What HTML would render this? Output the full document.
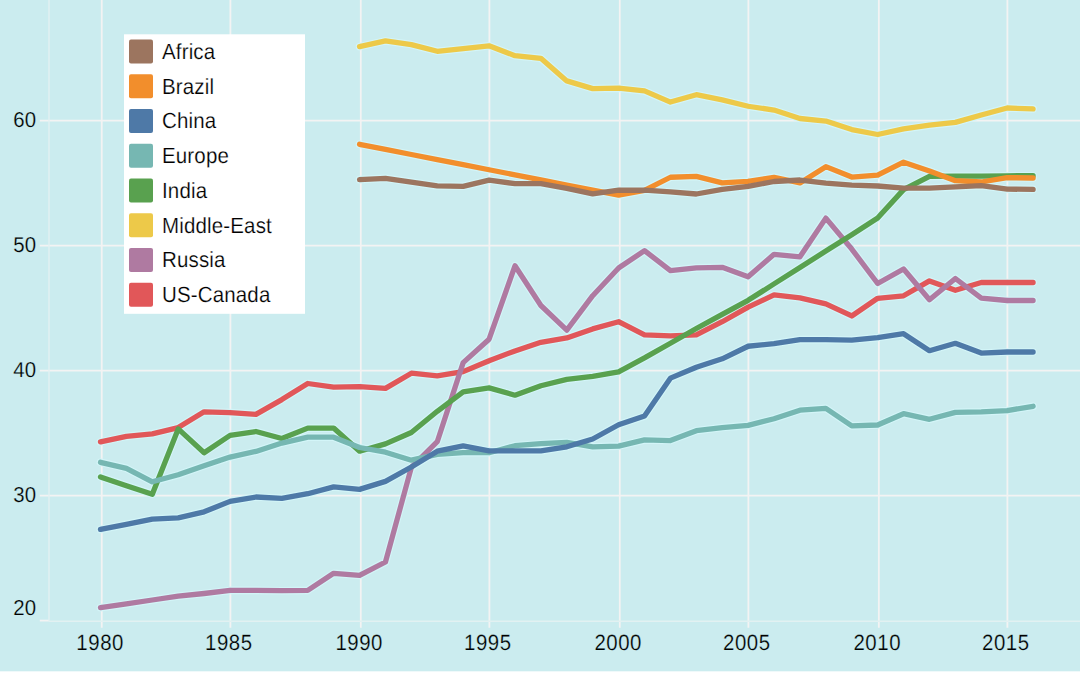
<!DOCTYPE html>
<html><head><meta charset="utf-8"><style>
html,body{margin:0;padding:0;background:#fff;width:1080px;height:675px;overflow:hidden;}
svg{display:block;}
text{font-family:"Liberation Sans",sans-serif;fill:#000;text-rendering:geometricPrecision;}
</style></head><body>
<svg width="1080" height="675" viewBox="0 0 1080 675">
<rect x="0" y="0" width="1080" height="671.3" fill="#cbecef"/>
<g stroke="#f3f3f3" stroke-width="1.8">
<line x1="101.75" y1="0" x2="101.75" y2="627.8" />
<line x1="230.40" y1="0" x2="230.40" y2="627.8" />
<line x1="360.80" y1="0" x2="360.80" y2="627.8" />
<line x1="489.40" y1="0" x2="489.40" y2="627.8" />
<line x1="619.80" y1="0" x2="619.80" y2="627.8" />
<line x1="748.40" y1="0" x2="748.40" y2="627.8" />
<line x1="878.85" y1="0" x2="878.85" y2="627.8" />
<line x1="1007.40" y1="0" x2="1007.40" y2="627.8" />
<line x1="39.8" y1="120.65" x2="1080" y2="120.65" />
<line x1="39.8" y1="245.65" x2="1080" y2="245.65" />
<line x1="39.8" y1="370.65" x2="1080" y2="370.65" />
<line x1="39.8" y1="495.65" x2="1080" y2="495.65" />
<line x1="39.8" y1="620.6" x2="49" y2="620.6" />
</g>
<g stroke="#e2f1f2" stroke-width="1.4"><line x1="49" y1="0" x2="49" y2="621.3" /><line x1="49" y1="621.3" x2="1080" y2="621.3" /></g>
<g stroke-width="7.6" stroke-linecap="round" stroke-linejoin="round" stroke="#d3f5f8">
<polyline fill="none" points="100.50,441.90 126.41,436.40 152.31,433.80 178.22,427.60 204.12,411.80 230.03,412.60 255.93,414.40 281.84,399.60 307.74,383.50 333.64,387.10 359.55,386.60 385.46,388.40 411.36,373.20 437.26,375.90 463.17,371.60 489.08,360.70 514.98,350.90 540.88,342.30 566.79,337.90 592.70,328.90 618.60,321.70 644.50,334.93 670.41,335.86 696.32,334.79 722.22,321.72 748.12,307.15 774.03,294.88 799.94,297.91 825.84,303.84 851.75,315.97 877.65,298.30 903.56,295.80 929.46,280.90 955.37,290.30 981.27,282.50 1007.18,282.50 1033.08,282.50" />
<polyline fill="none" points="100.50,607.70 126.41,603.90 152.31,600.00 178.22,596.10 204.12,593.50 230.03,590.40 255.93,590.40 281.84,590.70 307.74,590.40 333.64,573.30 359.55,575.40 385.46,562.00 411.36,467.40 437.26,441.70 463.17,362.60 489.08,339.20 514.98,265.80 540.88,305.50 566.79,330.10 592.70,295.70 618.60,268.00 644.50,250.63 670.41,270.56 696.32,267.89 722.22,267.32 748.12,276.85 774.03,254.28 799.94,256.81 825.84,218.14 851.75,249.07 877.65,283.50 903.56,269.00 929.46,299.80 955.37,278.50 981.27,298.20 1007.18,300.50 1033.08,300.50" />
<polyline fill="none" points="359.55,46.60 385.46,40.90 411.36,44.60 437.26,51.30 463.17,48.70 489.08,45.80 514.98,55.70 540.88,58.30 566.79,80.90 592.70,88.60 618.60,88.20 644.50,90.93 670.41,102.06 696.32,94.69 722.22,99.82 748.12,106.25 774.03,110.08 799.94,118.51 825.84,121.04 851.75,129.57 877.65,134.50 903.56,128.90 929.46,125.20 955.37,122.40 981.27,115.00 1007.18,108.00 1033.08,108.90" />
<polyline fill="none" points="100.50,476.90 126.41,485.70 152.31,494.20 178.22,428.90 204.12,452.70 230.03,435.40 255.93,431.50 281.84,438.50 307.74,428.10 333.64,428.10 359.55,451.20 385.46,443.90 411.36,432.50 437.26,411.30 463.17,391.80 489.08,387.90 514.98,395.20 540.88,385.80 566.79,379.40 592.70,376.30 618.60,371.80 644.50,357.93 670.41,343.26 696.32,328.49 722.22,314.42 748.12,300.35 774.03,283.88 799.94,267.51 825.84,251.04 851.75,234.67 877.65,218.00 903.56,189.60 929.46,176.40 955.37,176.10 981.27,176.10 1007.18,175.80 1033.08,175.70" />
<polyline fill="none" points="100.50,462.30 126.41,468.30 152.31,481.80 178.22,474.80 204.12,465.70 230.03,457.10 255.93,451.40 281.84,443.10 307.74,437.20 333.64,437.20 359.55,447.50 385.46,452.20 411.36,460.20 437.26,454.30 463.17,452.70 489.08,452.70 514.98,445.70 540.88,443.70 566.79,442.40 592.70,446.80 618.60,446.10 644.50,439.93 670.41,440.56 696.32,430.69 722.22,427.52 748.12,425.35 774.03,418.78 799.94,410.21 825.84,408.34 851.75,425.87 877.65,425.00 903.56,413.70 929.46,419.30 955.37,412.40 981.27,411.90 1007.18,410.60 1033.08,406.30" />
<polyline fill="none" points="100.50,529.40 126.41,524.30 152.31,519.10 178.22,517.80 204.12,511.80 230.03,501.40 255.93,497.00 281.84,498.30 307.74,493.70 333.64,486.90 359.55,489.40 385.46,481.40 411.36,467.00 437.26,451.20 463.17,445.90 489.08,450.90 514.98,450.90 540.88,450.90 566.79,446.80 592.70,439.00 618.60,424.70 644.50,416.03 670.41,378.16 696.32,367.19 722.22,358.82 748.12,346.25 774.03,343.58 799.94,339.61 825.84,339.54 851.75,340.07 877.65,337.60 903.56,333.70 929.46,350.70 955.37,343.30 981.27,353.10 1007.18,352.00 1033.08,352.00" />
<polyline fill="none" points="359.55,144.30 385.46,149.39 411.36,154.48 437.26,159.57 463.17,164.66 489.08,169.75 514.98,174.84 540.88,179.93 566.79,185.02 592.70,190.11 618.60,195.20 644.50,190.43 670.41,177.26 696.32,176.39 722.22,182.82 748.12,181.35 774.03,177.28 799.94,182.91 825.84,166.64 851.75,177.07 877.65,175.10 903.56,162.20 929.46,170.90 955.37,180.70 981.27,182.00 1007.18,177.60 1033.08,178.00" />
<polyline fill="none" points="359.55,179.60 385.46,178.30 411.36,182.10 437.26,185.90 463.17,186.30 489.08,180.20 514.98,183.70 540.88,183.70 566.79,188.40 592.70,193.90 618.60,190.20 644.50,190.23 670.41,191.96 696.32,193.99 722.22,189.32 748.12,186.35 774.03,181.48 799.94,180.01 825.84,183.14 851.75,185.07 877.65,186.00 903.56,188.10 929.46,188.10 955.37,186.90 981.27,185.70 1007.18,189.10 1033.08,189.40" />
</g>
<g stroke-width="5.3" stroke-linecap="round" stroke-linejoin="round">
<polyline fill="none" stroke="#e15759" points="100.50,441.90 126.41,436.40 152.31,433.80 178.22,427.60 204.12,411.80 230.03,412.60 255.93,414.40 281.84,399.60 307.74,383.50 333.64,387.10 359.55,386.60 385.46,388.40 411.36,373.20 437.26,375.90 463.17,371.60 489.08,360.70 514.98,350.90 540.88,342.30 566.79,337.90 592.70,328.90 618.60,321.70 644.50,334.93 670.41,335.86 696.32,334.79 722.22,321.72 748.12,307.15 774.03,294.88 799.94,297.91 825.84,303.84 851.75,315.97 877.65,298.30 903.56,295.80 929.46,280.90 955.37,290.30 981.27,282.50 1007.18,282.50 1033.08,282.50" />
<polyline fill="none" stroke="#af7aa1" points="100.50,607.70 126.41,603.90 152.31,600.00 178.22,596.10 204.12,593.50 230.03,590.40 255.93,590.40 281.84,590.70 307.74,590.40 333.64,573.30 359.55,575.40 385.46,562.00 411.36,467.40 437.26,441.70 463.17,362.60 489.08,339.20 514.98,265.80 540.88,305.50 566.79,330.10 592.70,295.70 618.60,268.00 644.50,250.63 670.41,270.56 696.32,267.89 722.22,267.32 748.12,276.85 774.03,254.28 799.94,256.81 825.84,218.14 851.75,249.07 877.65,283.50 903.56,269.00 929.46,299.80 955.37,278.50 981.27,298.20 1007.18,300.50 1033.08,300.50" />
<polyline fill="none" stroke="#edc949" points="359.55,46.60 385.46,40.90 411.36,44.60 437.26,51.30 463.17,48.70 489.08,45.80 514.98,55.70 540.88,58.30 566.79,80.90 592.70,88.60 618.60,88.20 644.50,90.93 670.41,102.06 696.32,94.69 722.22,99.82 748.12,106.25 774.03,110.08 799.94,118.51 825.84,121.04 851.75,129.57 877.65,134.50 903.56,128.90 929.46,125.20 955.37,122.40 981.27,115.00 1007.18,108.00 1033.08,108.90" />
<polyline fill="none" stroke="#59a14f" points="100.50,476.90 126.41,485.70 152.31,494.20 178.22,428.90 204.12,452.70 230.03,435.40 255.93,431.50 281.84,438.50 307.74,428.10 333.64,428.10 359.55,451.20 385.46,443.90 411.36,432.50 437.26,411.30 463.17,391.80 489.08,387.90 514.98,395.20 540.88,385.80 566.79,379.40 592.70,376.30 618.60,371.80 644.50,357.93 670.41,343.26 696.32,328.49 722.22,314.42 748.12,300.35 774.03,283.88 799.94,267.51 825.84,251.04 851.75,234.67 877.65,218.00 903.56,189.60 929.46,176.40 955.37,176.10 981.27,176.10 1007.18,175.80 1033.08,175.70" />
<polyline fill="none" stroke="#76b7b2" points="100.50,462.30 126.41,468.30 152.31,481.80 178.22,474.80 204.12,465.70 230.03,457.10 255.93,451.40 281.84,443.10 307.74,437.20 333.64,437.20 359.55,447.50 385.46,452.20 411.36,460.20 437.26,454.30 463.17,452.70 489.08,452.70 514.98,445.70 540.88,443.70 566.79,442.40 592.70,446.80 618.60,446.10 644.50,439.93 670.41,440.56 696.32,430.69 722.22,427.52 748.12,425.35 774.03,418.78 799.94,410.21 825.84,408.34 851.75,425.87 877.65,425.00 903.56,413.70 929.46,419.30 955.37,412.40 981.27,411.90 1007.18,410.60 1033.08,406.30" />
<polyline fill="none" stroke="#4e79a7" points="100.50,529.40 126.41,524.30 152.31,519.10 178.22,517.80 204.12,511.80 230.03,501.40 255.93,497.00 281.84,498.30 307.74,493.70 333.64,486.90 359.55,489.40 385.46,481.40 411.36,467.00 437.26,451.20 463.17,445.90 489.08,450.90 514.98,450.90 540.88,450.90 566.79,446.80 592.70,439.00 618.60,424.70 644.50,416.03 670.41,378.16 696.32,367.19 722.22,358.82 748.12,346.25 774.03,343.58 799.94,339.61 825.84,339.54 851.75,340.07 877.65,337.60 903.56,333.70 929.46,350.70 955.37,343.30 981.27,353.10 1007.18,352.00 1033.08,352.00" />
<polyline fill="none" stroke="#f28e2c" points="359.55,144.30 385.46,149.39 411.36,154.48 437.26,159.57 463.17,164.66 489.08,169.75 514.98,174.84 540.88,179.93 566.79,185.02 592.70,190.11 618.60,195.20 644.50,190.43 670.41,177.26 696.32,176.39 722.22,182.82 748.12,181.35 774.03,177.28 799.94,182.91 825.84,166.64 851.75,177.07 877.65,175.10 903.56,162.20 929.46,170.90 955.37,180.70 981.27,182.00 1007.18,177.60 1033.08,178.00" />
<polyline fill="none" stroke="#9c755f" points="359.55,179.60 385.46,178.30 411.36,182.10 437.26,185.90 463.17,186.30 489.08,180.20 514.98,183.70 540.88,183.70 566.79,188.40 592.70,193.90 618.60,190.20 644.50,190.23 670.41,191.96 696.32,193.99 722.22,189.32 748.12,186.35 774.03,181.48 799.94,180.01 825.84,183.14 851.75,185.07 877.65,186.00 903.56,188.10 929.46,188.10 955.37,186.90 981.27,185.70 1007.18,189.10 1033.08,189.40" />
</g>
<g font-size="20.4" letter-spacing="0.55" stroke="#cbecef" stroke-width="0.2">
<text transform="translate(36.2,127.1) scale(1,1.06)" text-anchor="end" letter-spacing="0.1">60</text>
<text transform="translate(36.2,252.1) scale(1,1.06)" text-anchor="end" letter-spacing="0.1">50</text>
<text transform="translate(36.2,377.1) scale(1,1.06)" text-anchor="end" letter-spacing="0.1">40</text>
<text transform="translate(36.2,502.1) scale(1,1.06)" text-anchor="end" letter-spacing="0.1">30</text>
<text transform="translate(36.2,614.9) scale(1,1.06)" text-anchor="end" letter-spacing="0.1">20</text>
<text transform="translate(100.15,650.2) scale(1,1.08)" text-anchor="middle">1980</text>
<text transform="translate(228.80,650.2) scale(1,1.08)" text-anchor="middle">1985</text>
<text transform="translate(359.20,650.2) scale(1,1.08)" text-anchor="middle">1990</text>
<text transform="translate(487.80,650.2) scale(1,1.08)" text-anchor="middle">1995</text>
<text transform="translate(618.20,650.2) scale(1,1.08)" text-anchor="middle">2000</text>
<text transform="translate(746.80,650.2) scale(1,1.08)" text-anchor="middle">2005</text>
<text transform="translate(877.25,650.2) scale(1,1.08)" text-anchor="middle">2010</text>
<text transform="translate(1005.80,650.2) scale(1,1.08)" text-anchor="middle">2015</text>
</g>
<g font-size="20.5" letter-spacing="0.15">
<rect x="124" y="34.3" width="181" height="279.5" fill="#ffffff" />
<rect x="129" y="39.40" width="24" height="24" rx="2" ry="2" fill="#9c755f" />
<text stroke="#fff" stroke-width="0.2" transform="translate(162,58.80) scale(1,1.07)">Africa</text>
<rect x="129" y="74.17" width="24" height="24" rx="2" ry="2" fill="#f28e2c" />
<text stroke="#fff" stroke-width="0.2" transform="translate(162,93.57) scale(1,1.07)">Brazil</text>
<rect x="129" y="108.94" width="24" height="24" rx="2" ry="2" fill="#4e79a7" />
<text stroke="#fff" stroke-width="0.2" transform="translate(162,128.34) scale(1,1.07)">China</text>
<rect x="129" y="143.71" width="24" height="24" rx="2" ry="2" fill="#76b7b2" />
<text stroke="#fff" stroke-width="0.2" transform="translate(162,163.11) scale(1,1.07)">Europe</text>
<rect x="129" y="178.48" width="24" height="24" rx="2" ry="2" fill="#59a14f" />
<text stroke="#fff" stroke-width="0.2" transform="translate(162,197.88) scale(1,1.07)">India</text>
<rect x="129" y="213.25" width="24" height="24" rx="2" ry="2" fill="#edc949" />
<text stroke="#fff" stroke-width="0.2" transform="translate(162,232.65) scale(1,1.07)">Middle-East</text>
<rect x="129" y="248.02" width="24" height="24" rx="2" ry="2" fill="#af7aa1" />
<text stroke="#fff" stroke-width="0.2" transform="translate(162,267.42) scale(1,1.07)">Russia</text>
<rect x="129" y="282.79" width="24" height="24" rx="2" ry="2" fill="#e15759" />
<text stroke="#fff" stroke-width="0.2" transform="translate(162,302.19) scale(1,1.07)">US-Canada</text>
</g>
</svg>
</body></html>
